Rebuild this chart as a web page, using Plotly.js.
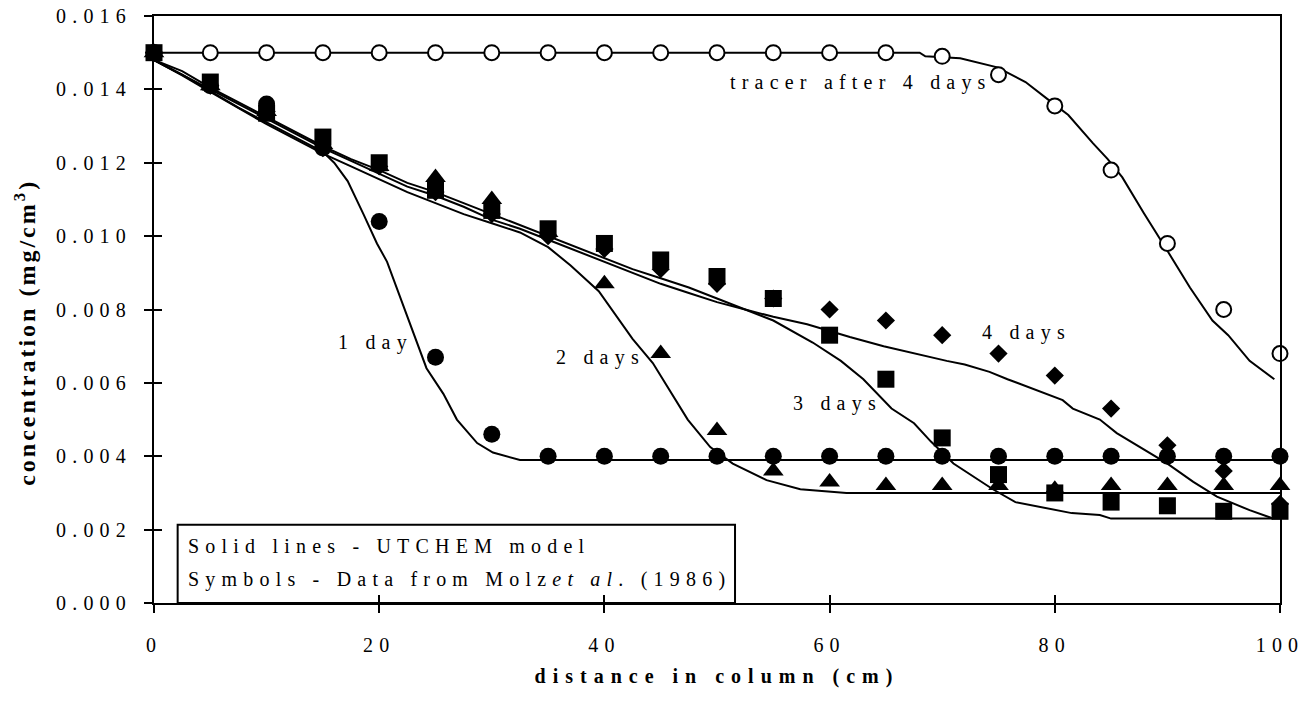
<!DOCTYPE html>
<html>
<head>
<meta charset="utf-8">
<script src="https://cdn.plot.ly/plotly-3.0.1.min.js"></script>
<style>
html, body { margin: 0; padding: 0; background: #ffffff; }
#chart { width: 1308px; height: 711px; }
svg text { letter-spacing: 6.2px; }
text.xtitle { letter-spacing: 7px; }
g.annotation[data-index="7"] text { letter-spacing: 3px; }
</style>
</head>
<body>
<div id="chart"></div>
<script>
// Sampling positions of the measured profiles (cm)
const distance = [0, 5, 10, 15, 20, 25, 30, 35, 40, 45, 50, 55, 60, 65, 70, 75, 80, 85, 90, 95, 100];

// Measured concentrations (mg/cm3), Molz et al. (1986)
const tracer4d = [0.0150, 0.0150, 0.0150, 0.0150, 0.0150, 0.0150, 0.0150, 0.0150, 0.0150, 0.0150, 0.0150,
                  0.0150, 0.0150, 0.0150, 0.0149, 0.0144, 0.01355, 0.0118, 0.0098, 0.0080, 0.0068];
const data1d = [0.0150, 0.0141, 0.0136, 0.0124, 0.0104, 0.0067, 0.0046, 0.0040, 0.0040, 0.0040, 0.0040,
                0.0040, 0.0040, 0.0040, 0.0040, 0.0040, 0.0040, 0.0040, 0.0040, 0.0040, 0.0040];
const data2d = [0.0150, 0.0141, 0.0134, 0.0125, 0.0119, 0.0116, 0.0110, 0.0101, 0.0087, 0.0068, 0.0047,
                0.0036, 0.0033, 0.0032, 0.0032, 0.0032, 0.0031, 0.0032, 0.0032, 0.0032, 0.0032];
const data3d = [0.0150, 0.0142, 0.01335, 0.0127, 0.0120, 0.01125, 0.0107, 0.0102, 0.0098, 0.00935, 0.0089,
                0.0083, 0.0073, 0.0061, 0.0045, 0.0035, 0.0030, 0.00275, 0.00265, 0.0025, 0.0025];
const data4d = [0.0150, 0.0141, 0.0134, 0.0124, 0.0119, 0.0112, 0.0106, 0.0100, 0.00965, 0.0091, 0.0087,
                0.0083, 0.0080, 0.0077, 0.0073, 0.0068, 0.0062, 0.0053, 0.0043, 0.0036, 0.0027];

// UTCHEM model profiles
const modelTracerX = [0, 68, 68.5, 71.6, 74.9, 77.4, 79.5, 81.2, 83.4, 84.7, 86, 87.9, 90, 92, 94, 95.4, 97.3, 99.5];
const modelTracerY = [0.0150, 0.0150, 0.0149, 0.01485, 0.0146, 0.0142, 0.0137, 0.0133, 0.01253, 0.0121, 0.0116,
                      0.01063, 0.0096, 0.0086, 0.0077, 0.0073, 0.0066, 0.0061];

const model1dX = [0, 2.5, 5, 7.5, 10, 12.5, 15, 16, 17.2, 18.6, 19.8, 20.7, 22.5, 24.2, 25.7, 26.9, 28.7, 30.1, 32.5, 35, 100];
const model1dY = [0.0148, 0.0144, 0.01395, 0.0135, 0.0131, 0.0127, 0.0123, 0.0120, 0.0115, 0.0106, 0.0098, 0.0093,
                  0.0078, 0.0064, 0.0057, 0.0050, 0.00436, 0.0041, 0.0039, 0.0039, 0.0039];

const model2dX = [0, 2.5, 5, 7.5, 10, 12.5, 15, 17.5, 20, 22.5, 25, 27.5, 30, 32.5, 35, 37, 39.5, 42.5, 44.3, 47.4,
                  49.4, 51.4, 54.4, 57.4, 61.5, 65, 100];
const model2dY = [0.0148, 0.01438, 0.01393, 0.01348, 0.01305, 0.01265, 0.01225, 0.0119, 0.01155, 0.0112, 0.0109,
                  0.0106, 0.01035, 0.0101, 0.0097, 0.0092, 0.0085, 0.0072, 0.00654, 0.0050, 0.00425, 0.0038,
                  0.00335, 0.0031, 0.0030, 0.0030, 0.0030];

const model3dX = [0, 2.5, 5, 7.5, 10, 12.5, 15, 17.5, 20, 22.5, 25, 27.5, 30, 32.5, 35, 37.5, 40, 42.5, 45, 47.5,
                  50, 52.5, 55, 58.5, 61, 63, 65.5, 67.5, 69, 71, 72.5, 74.5, 76.5, 79, 81.5, 84, 85, 100];
const model3dY = [0.0148, 0.0145, 0.01405, 0.01365, 0.01325, 0.01285, 0.01245, 0.0121, 0.0118, 0.01145, 0.0112,
                  0.0109, 0.0106, 0.0103, 0.0100, 0.0097, 0.0094, 0.0091, 0.00885, 0.0086, 0.0083, 0.0080,
                  0.0077, 0.0071, 0.0066, 0.0061, 0.0053, 0.0049, 0.0044, 0.0038, 0.0035, 0.0031, 0.00275,
                  0.0026, 0.00245, 0.0024, 0.0023, 0.0023];

const model4dX = [0, 2.5, 5, 7.5, 10, 12.5, 15, 17.5, 20, 22.5, 25, 27.5, 30, 32.5, 35, 37.5, 40, 42.5, 45, 47.5,
                  50, 52.5, 55, 58, 61.8, 64.8, 67.5, 70.4, 72, 74.2, 75.8, 78.4, 80.7, 81.6, 84, 85.5, 87.6,
                  90, 92.3, 94.4, 97.3, 99.4];
const model4dY = [0.0148, 0.0144, 0.0140, 0.0136, 0.0132, 0.0128, 0.0124, 0.01205, 0.0117, 0.01135, 0.0111,
                  0.0108, 0.01045, 0.0102, 0.0099, 0.0096, 0.0093, 0.0090, 0.0087, 0.00845, 0.0082, 0.0080,
                  0.0078, 0.0076, 0.00725, 0.0070, 0.0068, 0.0066, 0.0065, 0.0063, 0.0061, 0.0058, 0.00553,
                  0.0053, 0.0050, 0.00463, 0.00425, 0.0038, 0.0033, 0.0029, 0.00253, 0.0023];

// Axis ticks
const xTicks = [0, 20, 40, 60, 80, 100];
const yTicks = [0, 0.002, 0.004, 0.006, 0.008, 0.010, 0.012, 0.014, 0.016];
const yTickText = ['0.000', '0.002', '0.004', '0.006', '0.008', '0.010', '0.012', '0.014', '0.016'];

const SERIF = 'Liberation Serif, Times New Roman, serif';
const INK = '#000000';

function modelLine(x, y) {
  return { x: x, y: y, type: 'scatter', mode: 'lines', line: { color: INK, width: 2 },
           hoverinfo: 'skip', showlegend: false, cliponaxis: false };
}
function measured(y, symbol, size, fill, lineWidth) {
  return { x: distance, y: y, type: 'scatter', mode: 'markers', hoverinfo: 'skip', showlegend: false,
           cliponaxis: false,
           marker: { symbol: symbol, size: size, color: fill, line: { color: INK, width: lineWidth } } };
}

const traces = [
  modelLine(modelTracerX, modelTracerY),
  modelLine(model1dX, model1dY),
  modelLine(model2dX, model2dY),
  modelLine(model3dX, model3dY),
  modelLine(model4dX, model4dY),
  measured(tracer4d, 'circle', 15, '#ffffff', 2),
  measured(data4d, 'diamond', 14, INK, 0),
  measured(data3d, 'square', 17, INK, 0),
  measured(data1d, 'circle', 17, INK, 0),
  measured(data2d, 'triangle-up', 18, INK, 0),
  // carries the inward half of the crossing tick marks
  { x: [], y: [], type: 'scatter', mode: 'markers', xaxis: 'x2', yaxis: 'y2', showlegend: false, hoverinfo: 'skip' }
];

const tickFont = { family: SERIF, size: 20, color: INK };

const layout = {
  width: 1308,
  height: 711,
  margin: { l: 154, r: 28, t: 16, b: 108 },
  paper_bgcolor: '#ffffff',
  plot_bgcolor: '#ffffff',
  font: { family: SERIF, size: 20, color: INK },
  showlegend: false,
  xaxis: {
    range: [0, 100], tickvals: xTicks, ticks: 'outside', ticklen: 8, tickwidth: 2, tickcolor: INK,
    showline: true, linewidth: 2, linecolor: INK, mirror: true, showgrid: false, zeroline: false,
    tickfont: tickFont, ticklabelstandoff: 15,
    title: { text: '<b>distance in column (cm)</b>', font: { family: SERIF, size: 20, color: INK }, standoff: 14 }
  },
  yaxis: {
    range: [0, 0.016], tickvals: yTicks, ticktext: yTickText, ticks: 'outside', ticklen: 8, tickwidth: 2,
    tickcolor: INK, showline: true, linewidth: 2, linecolor: INK, mirror: true, showgrid: false,
    zeroline: false, tickfont: tickFont, ticklabelstandoff: 8
  },
  xaxis2: {
    overlaying: 'x', anchor: 'y2', range: [0, 100], tickvals: xTicks, ticks: 'inside', ticklen: 8,
    tickwidth: 2, tickcolor: INK, showticklabels: false, showline: false, showgrid: false, zeroline: false
  },
  yaxis2: {
    overlaying: 'y', anchor: 'x2', side: 'left', range: [0, 0.016], tickvals: yTicks, ticks: 'inside',
    ticklen: 8, tickwidth: 2, tickcolor: INK, showticklabels: false, showline: false, showgrid: false,
    zeroline: false
  },
  shapes: [
    { type: 'rect', xref: 'x', yref: 'y', x0: 2.1, x1: 51.6, y0: 0, y1: 0.00213,
      line: { color: INK, width: 2 }, fillcolor: 'rgba(255,255,255,0)', layer: 'above' }
  ],
  annotations: [
    { text: 'tracer after 4 days', x: 51.0, y: 0.0142 },
    { text: '1 day', x: 16.2, y: 0.00711 },
    { text: '2 days', x: 35.5, y: 0.00668 },
    { text: '3 days', x: 56.6, y: 0.00545 },
    { text: '4 days', x: 73.4, y: 0.00736 },
    { text: 'Solid lines - UTCHEM model', x: 2.8, y: 0.00155 },
    { text: 'Symbols - Data from Molz<i>et al</i>. (1986)', x: 2.8, y: 0.00065 }
  ].map(a => Object.assign({ xref: 'x', yref: 'y', xanchor: 'left', yanchor: 'middle', align: 'left',
                             showarrow: false, font: { family: SERIF, size: 20, color: INK } }, a))
   .concat([
    { text: '<b>concentration (mg/cm<sup>3</sup>)</b>', xref: 'paper', yref: 'paper', x: -0.1145, y: 0.46,
      xanchor: 'center', yanchor: 'middle', textangle: -90, showarrow: false,
      font: { family: SERIF, size: 24, color: INK } }
  ])
};

Plotly.newPlot('chart', traces, layout, { displayModeBar: false, staticPlot: true });
</script>
</body>
</html>
